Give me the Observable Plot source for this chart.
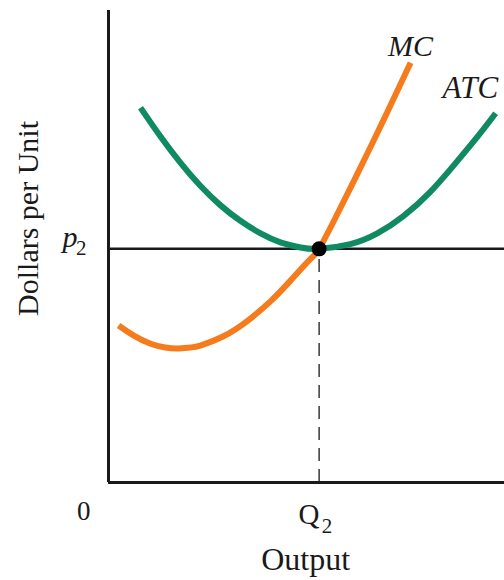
<!DOCTYPE html>
<html>
<head>
<meta charset="utf-8">
<script src="https://cdn.jsdelivr.net/npm/d3@7"></script>
<script src="https://cdn.jsdelivr.net/npm/@observablehq/plot@0.6"></script>
<style>
  html, body { margin: 0; padding: 0; background: #fff; overflow: hidden; }
</style>
</head>
<body>
<div id="chart"></div>
<script>
// Average total cost curve (output, dollars per unit)
const atcOutput = [0.76, 1.23, 1.71, 2.18, 2.66, 3.13, 3.61, 4.08, 4.56, 5.0, 5.74, 6.38, 7.0, 7.64, 8.19, 8.76, 9.19];
const atcCost   = [8.02, 7.41, 6.84, 6.35, 5.93, 5.60, 5.33, 5.14, 5.03, 5.0, 5.10, 5.33, 5.70, 6.22, 6.78, 7.40, 7.90];
// Marginal cost curve
const mcOutput = [0.24, 0.59, 1.0, 1.35, 1.64, 1.95, 2.18, 2.73, 3.30, 3.85, 4.32, 4.79, 5.0, 5.34, 5.74, 6.15, 6.53, 6.93, 7.17];
const mcCost   = [3.36, 3.15, 2.97, 2.89, 2.87, 2.89, 2.93, 3.13, 3.46, 3.88, 4.32, 4.78, 5.0, 5.58, 6.30, 7.05, 7.76, 8.52, 8.98];
// Equilibrium
const q2 = 5.0;
const p2 = 5.0;
// Curve labels
const mcLabel = "MC";
const atcLabel = "ATC";

const atc = atcOutput.map((x, i) => ({x, y: atcCost[i]}));
const mc = mcOutput.map((x, i) => ({x, y: mcCost[i]}));

const orange = "#F57B1C";
const green = "#0F8A61";
const ink = "#1a1a1a";
const serif = "'Liberation Serif', 'Times New Roman', serif";

const chart = Plot.plot({
  width: 504,
  height: 580,
  marginLeft: 108,
  marginRight: 0,
  marginTop: 10,
  marginBottom: 98,
  x: {domain: [0, 9.4], axis: null},
  y: {domain: [0, 10.1], axis: null},
  style: {fontFamily: serif, background: "#fff", color: ink, overflow: "visible"},
  marks: [
    Plot.ruleX([q2], {y1: 0, y2: p2, stroke: "#444", strokeWidth: 1.6, strokeDasharray: "13,8"}),
    Plot.ruleY([p2], {stroke: ink, strokeWidth: 2.5}),
    Plot.line(atc, {x: "x", y: "y", stroke: green, strokeWidth: 6, curve: "natural", strokeLinecap: "butt"}),
    Plot.line(mc, {x: "x", y: "y", stroke: orange, strokeWidth: 6, curve: "natural", strokeLinecap: "butt"}),
    Plot.ruleX([0], {stroke: ink, strokeWidth: 3}),
    Plot.ruleY([0], {stroke: ink, strokeWidth: 3}),
    Plot.dot([{x: q2, y: p2}], {x: "x", y: "y", r: 7.5, fill: "#000", stroke: "none"}),
    Plot.text([mcLabel], {x: [7.17], y: [9.33], text: d => d, textAnchor: "middle", fontSize: 30, fontStyle: "italic", fill: ink}),
    Plot.text([atcLabel], {x: [7.93], y: [8.45], text: d => d, textAnchor: "start", fontSize: 31, fontStyle: "italic", fill: ink}),
    Plot.text(["p"], {x: [-1.09], y: [5.24], text: d => d, textAnchor: "start", fontSize: 30, fontStyle: "italic", fill: ink}),
    Plot.text(["2"], {x: [-0.77], y: [5.02], text: d => d, textAnchor: "start", fontSize: 21, fill: ink}),
    Plot.text(["0"], {x: [-0.59], y: [-0.62], text: d => d, textAnchor: "middle", fontSize: 27, fill: ink}),
    Plot.text(["Q"], {x: [4.76], y: [-0.685], text: d => d, textAnchor: "middle", fontSize: 29, fill: ink}),
    Plot.text(["2"], {x: [5.06], y: [-0.93], text: d => d, textAnchor: "start", fontSize: 21, fill: ink}),
    Plot.text(["Output"], {x: [4.68], y: [-1.66], text: d => d, textAnchor: "middle", fontSize: 32, fill: ink}),
    Plot.text(["Dollars per Unit"], {x: [-1.90], y: [5.65], text: d => d, textAnchor: "middle", rotate: -90, fontSize: 30, fill: ink})
  ]
});
document.getElementById("chart").appendChild(chart);
</script>
</body>
</html>
